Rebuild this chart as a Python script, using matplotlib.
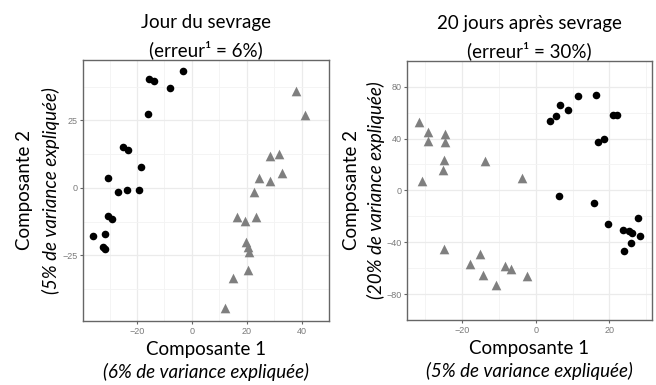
import matplotlib
matplotlib.use("Agg")
import matplotlib.pyplot as plt
import numpy as np

plt.rcParams["font.family"] = ["Lato", "DejaVu Sans"]

# Jour du sevrage
j0_circle_x = [-3.1, -15.6, -13.9, -8.0, -16.0, -25.0, -23.4, -18.7, -30.5, -26.8,
               -23.7, -19.3, -30.5, -29.1, -35.9, -31.7, -32.3, -31.6]
j0_circle_y = [43.3, 40.4, 39.7, 37.0, 27.4, 15.3, 14.2, 7.9, 3.7, -1.4,
               -0.7, -0.7, -10.4, -11.5, -17.9, -17.0, -21.7, -22.6]
j0_tri_x = [38.1, 41.1, 28.4, 31.8, 32.8, 24.4, 28.4, 22.7, 16.3, 19.3,
            23.3, 19.6, 20.4, 20.7, 20.4, 15.0, 12.2]
j0_tri_y = [35.9, 27.0, 12.0, 12.5, 5.7, 3.7, 2.6, -1.5, -10.9, -12.2,
            -10.9, -20.1, -21.7, -23.6, -30.4, -33.5, -44.4]

# 20 jours apres sevrage
j20_circle_x = [11.6, 16.4, 6.7, 8.8, 5.6, 3.8, 21.1, 22.0, 16.9, 18.6,
                6.4, 15.9, 19.6, 27.7, 23.8, 25.4, 26.2, 28.4, 26.0, 23.9]
j20_circle_y = [72.6, 73.6, 66.0, 62.2, 57.4, 53.5, 57.9, 58.3, 37.1, 39.6,
                -4.2, -9.9, -26.1, -21.6, -30.5, -31.1, -33.2, -35.1, -40.3, -46.5]
j20_tri_x = [-31.7, -29.3, -29.3, -24.6, -24.6, -24.9, -25.1, -30.9, -13.8, -3.7,
             -24.9, -15.1, -17.9, -14.3, -8.3, -6.7, -2.4, -10.9]
j20_tri_y = [52.5, 45.3, 37.9, 43.3, 37.3, 23.4, 16.0, 7.3, 22.8, 9.8,
             -45.6, -49.4, -56.8, -65.1, -58.3, -60.4, -66.0, -73.0]

titles = ["Jour du sevrage", "20 jours après sevrage"]
erreurs = ["(erreur¹ = 6%)", "(erreur¹ = 30%)"]
var_x = ["(6% de variance expliquée)", "(5% de variance expliquée)"]
var_y = ["(5% de variance expliquée)", "(20% de variance expliquée)"]

fig = plt.figure(figsize=(6.56, 3.85), dpi=100)
ax1 = fig.add_axes([0.1265, 0.1662, 0.375, 0.678])
ax2 = fig.add_axes([0.621, 0.1688, 0.3724, 0.6735])

panels = [
    (ax1, j0_circle_x, j0_circle_y, j0_tri_x, j0_tri_y,
     [-20, 0, 20, 40], [-25, 0, 25], (-39.7, 44.5), (-49.3, 47.4)),
    (ax2, j20_circle_x, j20_circle_y, j20_tri_x, j20_tri_y,
     [-20, 0, 20], [-80, -40, 0, 40, 80], (-34.9, 31.5), (-81, 80.5)),
]

for i, (ax, cx, cy, tx, ty, xt, yt, xl, yl) in enumerate(panels):
    ax.scatter(tx, ty, marker="^", s=48, color="#7f7f7f", linewidths=0, zorder=3)
    ax.scatter(cx, cy, marker="o", s=30, color="black", linewidths=0, zorder=4)
    ax.set_xlim(*xl)
    ax.set_ylim(*yl)
    ax.set_xticks(xt)
    ax.set_yticks(yt)
    # minor grid at midpoints (theme_bw look)
    xs = np.diff(xt)[0] / 2
    ys = np.diff(yt)[0] / 2
    ax.set_xticks(np.arange(xt[0] - xs, xt[-1] + 2 * xs, 2 * xs), minor=True)
    ax.set_yticks(np.arange(yt[0] - ys, yt[-1] + 2 * ys, 2 * ys), minor=True)
    ax.grid(True, which="major", color="#ebebeb", lw=0.9, zorder=0)
    ax.grid(True, which="minor", color="#f3f3f3", lw=0.6, zorder=0)
    ax.set_axisbelow(True)
    ax.tick_params(which="major", length=2.5, width=0.8, color="#666666",
                   labelsize=6.5, labelcolor="#7a7a7a", pad=1.5)
    ax.tick_params(which="minor", length=0)
    for lab in ax.get_xticklabels() + ax.get_yticklabels():
        lab.set_family("Liberation Sans")
    for sp in ax.spines.values():
        sp.set_color("#666666")
        sp.set_linewidth(1.0)

    ax.text(0.5, 1.142, titles[i], transform=ax.transAxes, ha="center", va="center", fontsize=13.5)
    ax.text(0.5, 1.038, erreurs[i], transform=ax.transAxes, ha="center", va="center", fontsize=13.5)
    ax.text(0.5, -0.111, "Composante 1", transform=ax.transAxes, ha="center", va="center", fontsize=13.5)
    ax.text(0.5, -0.195, var_x[i], transform=ax.transAxes, ha="center", va="center",
            fontsize=13.5, style="italic")

ax1.text(-0.238, 0.5, "Composante 2", transform=ax1.transAxes, ha="center", va="center",
         rotation=90, fontsize=13.5)
ax1.text(-0.13, 0.5, var_y[0], transform=ax1.transAxes, ha="center", va="center",
         rotation=90, fontsize=13.5, style="italic")
ax2.text(-0.228, 0.5, "Composante 2", transform=ax2.transAxes, ha="center", va="center",
         rotation=90, fontsize=13.5)
ax2.text(-0.128, 0.5, var_y[1], transform=ax2.transAxes, ha="center", va="center",
         rotation=90, fontsize=13.5, style="italic")

fig.savefig("out.png", dpi=100)
